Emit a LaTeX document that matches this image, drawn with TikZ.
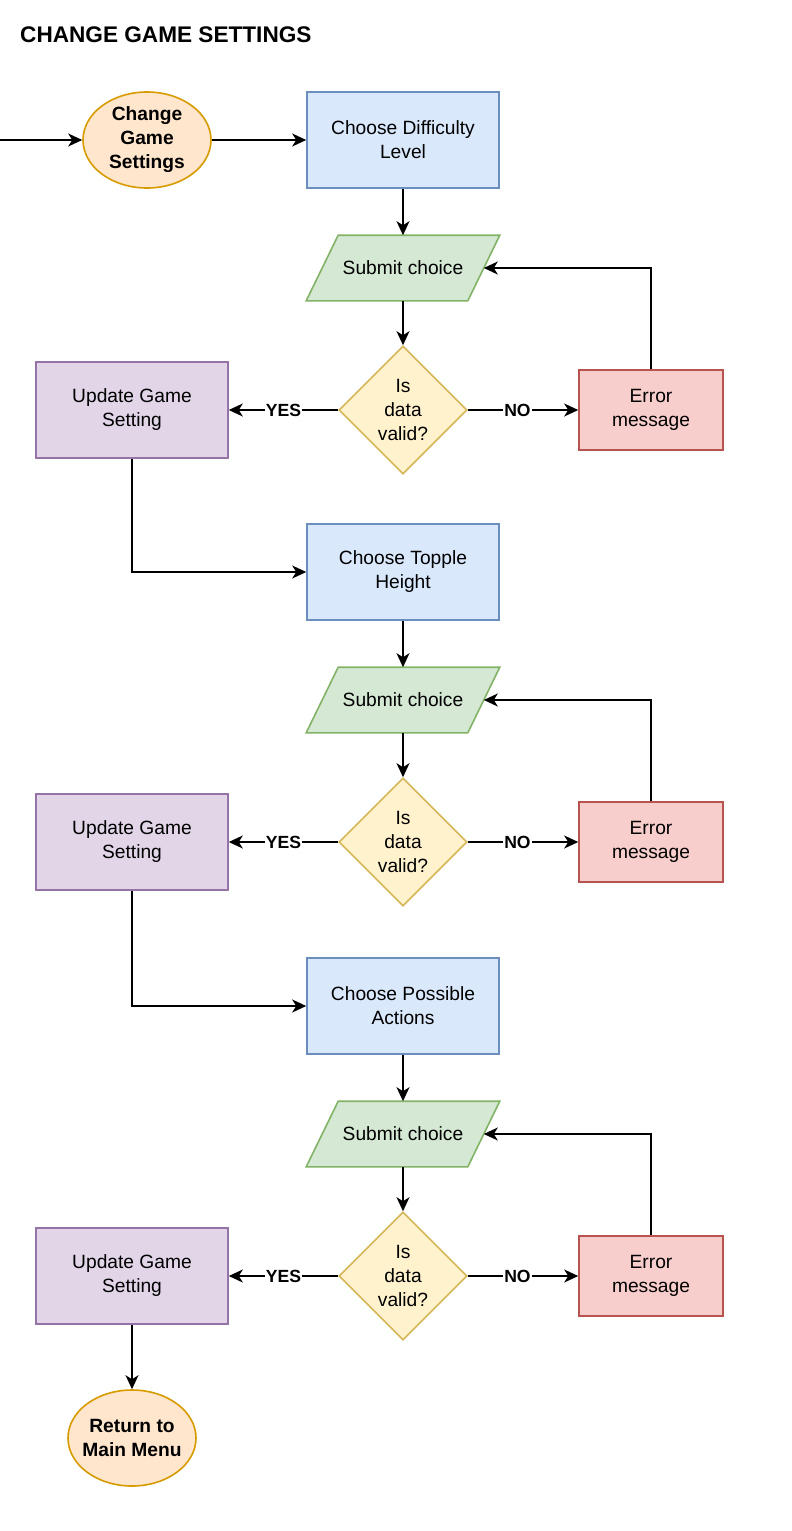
\documentclass[tikz,border=0pt]{standalone}
\usepackage{fontspec}
\setmainfont{Liberation Sans}
\usetikzlibrary{shapes.geometric,arrows.meta,backgrounds}
\definecolor{bluef}{HTML}{DAE8FC}\definecolor{blued}{HTML}{6C8EBF}
\definecolor{greenf}{HTML}{D5E8D4}\definecolor{greend}{HTML}{82B366}
\definecolor{yellowf}{HTML}{FFF2CC}\definecolor{yellowd}{HTML}{D6B656}
\definecolor{redf}{HTML}{F8CECC}\definecolor{redd}{HTML}{B85450}
\definecolor{purplef}{HTML}{E1D5E7}\definecolor{purpled}{HTML}{9673A6}
\definecolor{orangef}{HTML}{FFE6CC}\definecolor{oranged}{HTML}{D79B00}
\tikzset{
 base/.style={line width=1.6pt, align=center, font=\fontsize{19.2}{24}\selectfont, inner sep=0pt},
 choosebox/.style={base, rectangle, draw=blued, fill=bluef, minimum width=192pt, minimum height=96pt},
 updbox/.style={base, rectangle, draw=purpled, fill=purplef, minimum width=192pt, minimum height=96pt},
 errbox/.style={base, rectangle, draw=redd, fill=redf, minimum width=144pt, minimum height=80pt},
 decision/.style={base, diamond, draw=yellowd, fill=yellowf, minimum width=128pt, minimum height=128pt, aspect=1},
 terminal/.style={base, ellipse, draw=oranged, fill=orangef, minimum width=128pt, minimum height=96pt, inner sep=-6pt, font=\fontsize{19.2}{24}\selectfont\bfseries},
 subtext/.style={base, rectangle, minimum width=160pt, minimum height=64pt},
 subshape/.style={draw=greend, fill=greenf, line width=1.6pt},
 edge/.style={line width=1.6pt, -{Stealth[length=14pt,width=13pt,inset=4pt]}},
 elabel/.style={fill=white, inner sep=1pt, font=\fontsize{17.6}{20}\selectfont\bfseries},
 titletext/.style={anchor=west, inner sep=0pt, font=\fontsize{22.6}{26}\selectfont\bfseries},
}
\begin{document}
\begin{tikzpicture}[x=1pt,y=-1pt]
\useasboundingbox (0,0) rectangle (792,1531);

\node[titletext] (title) at (20,35) {CHANGE GAME SETTINGS};

\coordinate (in) at (0,140);
\node[terminal] (start) at (147,140) {Change\\Game\\Settings};

% block 1
\node[choosebox] (c1) at (403,140) {Choose Difficulty\\Level};
\node[subtext] (s1) at (403,268) {Submit choice};
\node[decision] (d1) at (403,410) {Is\\data\\valid?};
\node[updbox] (u1) at (132,410) {Update Game\\Setting};
\node[errbox] (e1) at (651,410) {Error\\message};

% block 2
\node[choosebox] (c2) at (403,572) {Choose Topple\\Height};
\node[subtext] (s2) at (403,700) {Submit choice};
\node[decision] (d2) at (403,842) {Is\\data\\valid?};
\node[updbox] (u2) at (132,842) {Update Game\\Setting};
\node[errbox] (e2) at (651,842) {Error\\message};

% block 3
\node[choosebox] (c3) at (403,1006) {Choose Possible\\Actions};
\node[subtext] (s3) at (403,1134) {Submit choice};
\node[decision] (d3) at (403,1276) {Is\\data\\valid?};
\node[updbox] (u3) at (132,1276) {Update Game\\Setting};
\node[errbox] (e3) at (651,1276) {Error\\message};

\node[terminal] (ret) at (132,1438) {Return to\\Main Menu};

\begin{scope}[on background layer]
\fill[white] (0,0) rectangle (792,1531);
\foreach \n in {s1,s2,s3}
  \draw[subshape] ([xshift=-16pt]\n.south west) -- ([xshift=16pt]\n.north west) -- ([xshift=16pt]\n.north east) -- ([xshift=-16pt]\n.south east) -- cycle;
\end{scope}

\draw[edge] (in) -- (start);
\draw[edge] (start) -- (c1);

\foreach \i in {1,2,3}{
  \draw[edge] (c\i.south) -- (s\i.north);
  \draw[edge] (s\i.south) -- (d\i.north);
  \draw[edge] (d\i.west) -- node[elabel, pos=0.5]{YES} (u\i.east);
  \draw[edge] (d\i.east) -- node[elabel, pos=0.45]{NO} (e\i.west);
  \draw[edge] (e\i.north) |- (s\i.east);
}
\draw[edge] (u1.south) |- (c2.west);
\draw[edge] (u2.south) |- (c3.west);
\draw[edge] (u3.south) -- (ret.north);
\end{tikzpicture}
\end{document}
